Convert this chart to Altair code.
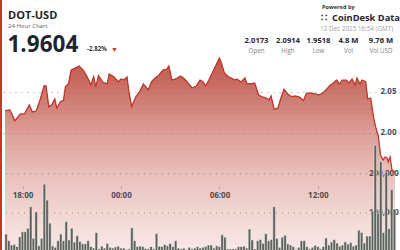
import altair as alt
import pandas as pd

FONT = "Open Sans"

# ---------------- data ----------------
price_times = [
    "2025-12-11T16:56", "2025-12-11T17:14", "2025-12-11T17:32", "2025-12-11T17:53", "2025-12-11T18:07",
    "2025-12-11T18:25", "2025-12-11T18:36", "2025-12-11T18:50", "2025-12-11T19:04", "2025-12-11T19:19",
    "2025-12-11T19:26", "2025-12-11T19:36", "2025-12-11T19:47", "2025-12-11T19:58", "2025-12-11T20:05",
    "2025-12-11T20:19", "2025-12-11T20:30", "2025-12-11T20:37", "2025-12-11T20:48", "2025-12-11T20:58",
    "2025-12-11T21:13", "2025-12-11T21:27", "2025-12-11T21:41", "2025-12-11T21:55", "2025-12-11T22:10",
    "2025-12-11T22:20", "2025-12-11T22:28", "2025-12-11T22:38", "2025-12-11T22:53", "2025-12-11T23:10",
    "2025-12-11T23:17", "2025-12-11T23:35", "2025-12-11T23:50", "2025-12-12T00:00", "2025-12-12T00:11",
    "2025-12-12T00:22", "2025-12-12T00:29", "2025-12-12T00:39", "2025-12-12T00:54", "2025-12-12T01:08",
    "2025-12-12T01:22", "2025-12-12T01:40", "2025-12-12T01:51", "2025-12-12T02:01", "2025-12-12T02:19",
    "2025-12-12T02:34", "2025-12-12T02:48", "2025-12-12T02:55", "2025-12-12T03:06", "2025-12-12T03:20",
    "2025-12-12T03:38", "2025-12-12T03:48", "2025-12-12T03:59", "2025-12-12T04:20", "2025-12-12T04:35",
    "2025-12-12T04:49", "2025-12-12T05:00", "2025-12-12T05:10", "2025-12-12T05:25", "2025-12-12T05:39",
    "2025-12-12T05:53", "2025-12-12T06:00", "2025-12-12T06:07", "2025-12-12T06:18", "2025-12-12T06:29",
    "2025-12-12T06:43", "2025-12-12T06:57", "2025-12-12T07:04", "2025-12-12T07:19", "2025-12-12T07:33",
    "2025-12-12T07:40", "2025-12-12T07:54", "2025-12-12T08:09", "2025-12-12T08:23", "2025-12-12T08:37",
    "2025-12-12T08:51", "2025-12-12T09:02", "2025-12-12T09:09", "2025-12-12T09:20", "2025-12-12T09:34",
    "2025-12-12T09:45", "2025-12-12T09:56", "2025-12-12T10:10", "2025-12-12T10:24", "2025-12-12T10:38",
    "2025-12-12T10:53", "2025-12-12T11:07", "2025-12-12T11:18", "2025-12-12T11:35", "2025-12-12T11:50",
    "2025-12-12T12:04", "2025-12-12T12:18", "2025-12-12T12:32", "2025-12-12T12:47", "2025-12-12T12:57",
    "2025-12-12T13:08", "2025-12-12T13:19", "2025-12-12T13:29", "2025-12-12T13:44", "2025-12-12T13:54",
    "2025-12-12T14:05", "2025-12-12T14:16", "2025-12-12T14:23", "2025-12-12T14:34", "2025-12-12T14:41",
    "2025-12-12T14:55", "2025-12-12T15:02", "2025-12-12T15:13", "2025-12-12T15:24", "2025-12-12T15:31",
    "2025-12-12T15:41", "2025-12-12T15:49", "2025-12-12T15:59", "2025-12-12T16:06", "2025-12-12T16:13",
    "2025-12-12T16:17", "2025-12-12T16:24", "2025-12-12T16:31", "2025-12-12T16:42",
]
price_values = [
    2.0274, 2.0280, 2.0150, 2.0232, 2.0232, 2.0341, 2.0256, 2.0268, 2.0402, 2.0577,
    2.0573, 2.0321, 2.0341, 2.0415, 2.0305, 2.0382, 2.0402, 2.0565, 2.0598, 2.0768,
    2.0793, 2.0817, 2.0768, 2.0695, 2.0585, 2.0687, 2.0561, 2.0699, 2.0622, 2.0598,
    2.0720, 2.0683, 2.0622, 2.0659, 2.0646, 2.0683, 2.0504, 2.0321, 2.0439, 2.0504,
    2.0598, 2.0524, 2.0622, 2.0659, 2.0707, 2.0768, 2.0780, 2.0817, 2.0646, 2.0659,
    2.0695, 2.0671, 2.0634, 2.0549, 2.0573, 2.0646, 2.0626, 2.0573, 2.0671, 2.0768,
    2.0866, 2.0914, 2.0854, 2.0732, 2.0695, 2.0671, 2.0646, 2.0659, 2.0622, 2.0671,
    2.0606, 2.0598, 2.0610, 2.0463, 2.0439, 2.0427, 2.0402, 2.0451, 2.0289, 2.0305,
    2.0427, 2.0533, 2.0476, 2.0443, 2.0451, 2.0439, 2.0394, 2.0484, 2.0488, 2.0476,
    2.0463, 2.0488, 2.0533, 2.0589, 2.0610, 2.0646, 2.0598, 2.0646, 2.0646, 2.0610,
    2.0659, 2.0585, 2.0671, 2.0598, 2.0646, 2.0626, 2.0415, 2.0427, 2.0183, 2.0077,
    1.9963, 1.9732, 1.9671, 1.9707, 1.9695, 1.9646, 1.9707, 1.9549, 1.9524,
]

# 10-minute volume bars (thousands of DOT), first bar at 17:00
vol_start = "2025-12-11 17:00"
vol_k = [
    46, 29, 18, 19, 14, 39, 52, 52, 61, 116, 35, 103, 16, 35, 174, 133, 74, 16, 12, 29,
    46, 29, 78, 31, 61, 25, 42, 27, 21, 21, 29, 14, 10, 50, 8, 15, 10, 22, 12, 10,
    13, 15, 10, 10, 6, 8, 62, 29, 14, 15, 14, 9, 8, 14, 8, 47, 15, 14, 19, 16,
    22, 14, 29, 10, 8, 10, 6, 12, 8, 10, 14, 10, 12,
    14, 18, 18, 10, 16, 14, 44, 38, 8, 8, 8, 8, 14, 14, 15, 10, 59, 31, 8, 29,
    32, 22, 47, 29, 32, 116, 35, 12, 38, 43, 21, 18, 14, 6, 12, 29, 29, 14, 8, 12,
    17, 14, 8, 14, 36, 18, 26, 32, 23, 15, 18, 26, 20, 24, 15, 18, 56, 50, 23, 41,
    41, 105, 274, 99, 232, 50, 205, 60, 160, 110,
]

price_ticks = [2.00, 2.05]
vol_ticks = [100000, 200000]
time_ticks = [(11, 18), (12, 0), (12, 6), (12, 12)]

stat_values = ["2.0173", "2.0914", "1.9518", "4.8 M", "9.76 M"]
stat_labels = ["Open", "High", "Low", "Vol", "Vol USD"]

# ---------------- frames ----------------
price_df = pd.DataFrame({"t": [s + ":00Z" for s in price_times], "price": price_values})
vt = pd.date_range(vol_start, periods=len(vol_k), freq="10min")
vol_df = pd.DataFrame({"t": [d.strftime("%Y-%m-%dT%H:%M:%SZ") for d in vt],
                       "vol": [v * 1000 for v in vol_k]})

W, H = 400, 250
P_TOP, P_BOT = 2.1622, 1.8573
x_dom = [alt.DateTime(year=2025, month=12, date=11, hours=16, minutes=56, utc=True),
         alt.DateTime(year=2025, month=12, date=12, hours=16, minutes=42, utc=True)]
xscale = alt.Scale(type="utc", domain=x_dom, nice=False)
pscale = alt.Scale(domain=[P_BOT, P_TOP], nice=False, zero=False)
vscale = alt.Scale(domain=[5128, 646154], nice=False, zero=False)

xaxis = alt.Axis(orient="bottom", offset=-64, format="%H:%M", zindex=1,
                 values=[alt.DateTime(year=2025, month=12, date=d, hours=h, utc=True)
                         for d, h in time_ticks],
                 domain=False, grid=False, tickSize=2, tickColor="#9a9a9a",
                 labelPadding=3, labelFont=FONT, labelFontSize=8,
                 labelFontWeight="bold", labelColor="#4a4f5c", title=None)
yaxis_price = alt.Axis(orient="right", values=price_ticks, format=".2f", zindex=1,
                       grid=True, gridDash=[1, 5], gridColor="#8a8a8a", gridWidth=1,
                       domain=False, ticks=False, labelPadding=-20, labelAlign="left",
                       labelFont=FONT, labelFontSize=8, labelFontWeight="bold",
                       labelColor="#4a4f5c", title=None)
X = alt.X("t:T", scale=xscale, axis=xaxis)

# vertical colour ramp of the price area (pixel row -> rgb), stepped bands
ramp = [(58, (192, 86, 76)), (92, (203, 116, 106)), (133, (220, 158, 151)),
        (175, (233, 192, 187)), (215, (242, 215, 212)), (250, (248, 232, 230))]


def ramp_color(y):
    for (y0, c0), (y1, c1) in zip(ramp[:-1], ramp[1:]):
        if y <= y1:
            f = max(0.0, (y - y0) / (y1 - y0))
            return "#%02x%02x%02x" % tuple(round(a + (b - a) * f) for a, b in zip(c0, c1))
    return "#%02x%02x%02x" % ramp[-1][1]


area_layers = []
level = H
first = True
while level > 56:
    lp = P_TOP - level * (P_TOP - P_BOT) / H
    col = ramp_color(level - 2.5)
    base = alt.Chart(price_df).transform_calculate(lo="min(datum.price, %.5f)" % lp)
    area_layers.append(base.mark_area(color=col, clip=True).encode(
        x=X,
        y=alt.Y("price:Q", scale=pscale, axis=yaxis_price if first else None),
        y2="lo:Q",
    ))
    first = False
    level -= 5

vol_grid_df = pd.DataFrame({"v": vol_ticks})
vgrid = alt.Chart(vol_grid_df).mark_rule(strokeDash=[1, 5], color="#8a8a8a", strokeWidth=1).encode(
    y=alt.Y("v:Q", scale=vscale, axis=None),
    x=alt.value(0), x2=alt.value(W),
)
vlabels = alt.Chart(vol_grid_df).mark_text(
    align="left", baseline="middle", font=FONT, fontSize=8, fontWeight="bold", color="#4a4f5c"
).encode(
    y=alt.Y("v:Q", scale=vscale, axis=None),
    x=alt.value(369),
    text=alt.Text("v:Q", format=","),
)

bars = alt.Chart(vol_df).mark_bar(
    color="#5d625c", stroke="#f2f2f2", strokeWidth=0.5, size=2.6, clip=True
).encode(
    x=X,
    y=alt.Y("vol:Q", scale=vscale, axis=None),
    y2=alt.datum(0),
)

line = alt.Chart(price_df).mark_line(color="#c0392b", strokeWidth=1.3, clip=True).encode(
    x=X,
    y=alt.Y("price:Q", scale=pscale, axis=None),
)

dummy = pd.DataFrame({"a": [0]})


def txt(s, x, y, size, weight="normal", color="#1f2530", align="left", baseline="alphabetic"):
    return alt.Chart(dummy).mark_text(
        text=s, font=FONT, fontSize=size, fontWeight=weight, color=color,
        align=align, baseline=baseline
    ).encode(x=alt.value(x), y=alt.value(y))


texts = [
    txt("DOT-USD", 8, 19, 11, "bold"),
    txt("24 Hour Chart", 8, 27.5, 6, "normal", "#555b66"),
    txt("1.9604", 7.5, 51.5, 22.5, "bold"),
    txt("-2.82%", 87, 51, 6.2, "bold", "#333"),
    txt("\u25BC", 111, 52, 7, "normal", "#c0392b"),
    txt("Powered by", 322, 8.5, 5.6, "bold", "#333"),
    txt("CoinDesk Data", 332, 21, 9.3, "bold", "#1f2530"),
    txt("\u2237", 321, 21, 10, "bold", "#1f2530"),
    txt("12 Dec 2025 16:54 (GMT)", 393, 31, 6.3, "normal", "#9aa0a8", "right"),
]
stat_x = [256.5, 288, 318.5, 348.5, 381]
for v, l, xc in zip(stat_values, stat_labels, stat_x):
    texts.append(txt(v, xc, 43, 7.6, "bold", "#1f2530", "center"))
    texts.append(txt(l, xc, 53, 6.2, "normal", "#7a808a", "center"))

left_bar = alt.Chart(dummy).mark_rule(color="#c0392b", strokeWidth=2).encode(
    x=alt.value(1), y=alt.value(0), y2=alt.value(H))

chart = alt.layer(*area_layers, vgrid, vlabels, bars, line, left_bar, *texts).resolve_scale(
    y="independent"
).properties(
    width=W, height=H, padding=0, background="white",
    autosize=alt.AutoSizeParams(type="none"),
).configure_view(stroke=None)

chart.save("out.html", embed_options={"renderer": "svg", "actions": False})
